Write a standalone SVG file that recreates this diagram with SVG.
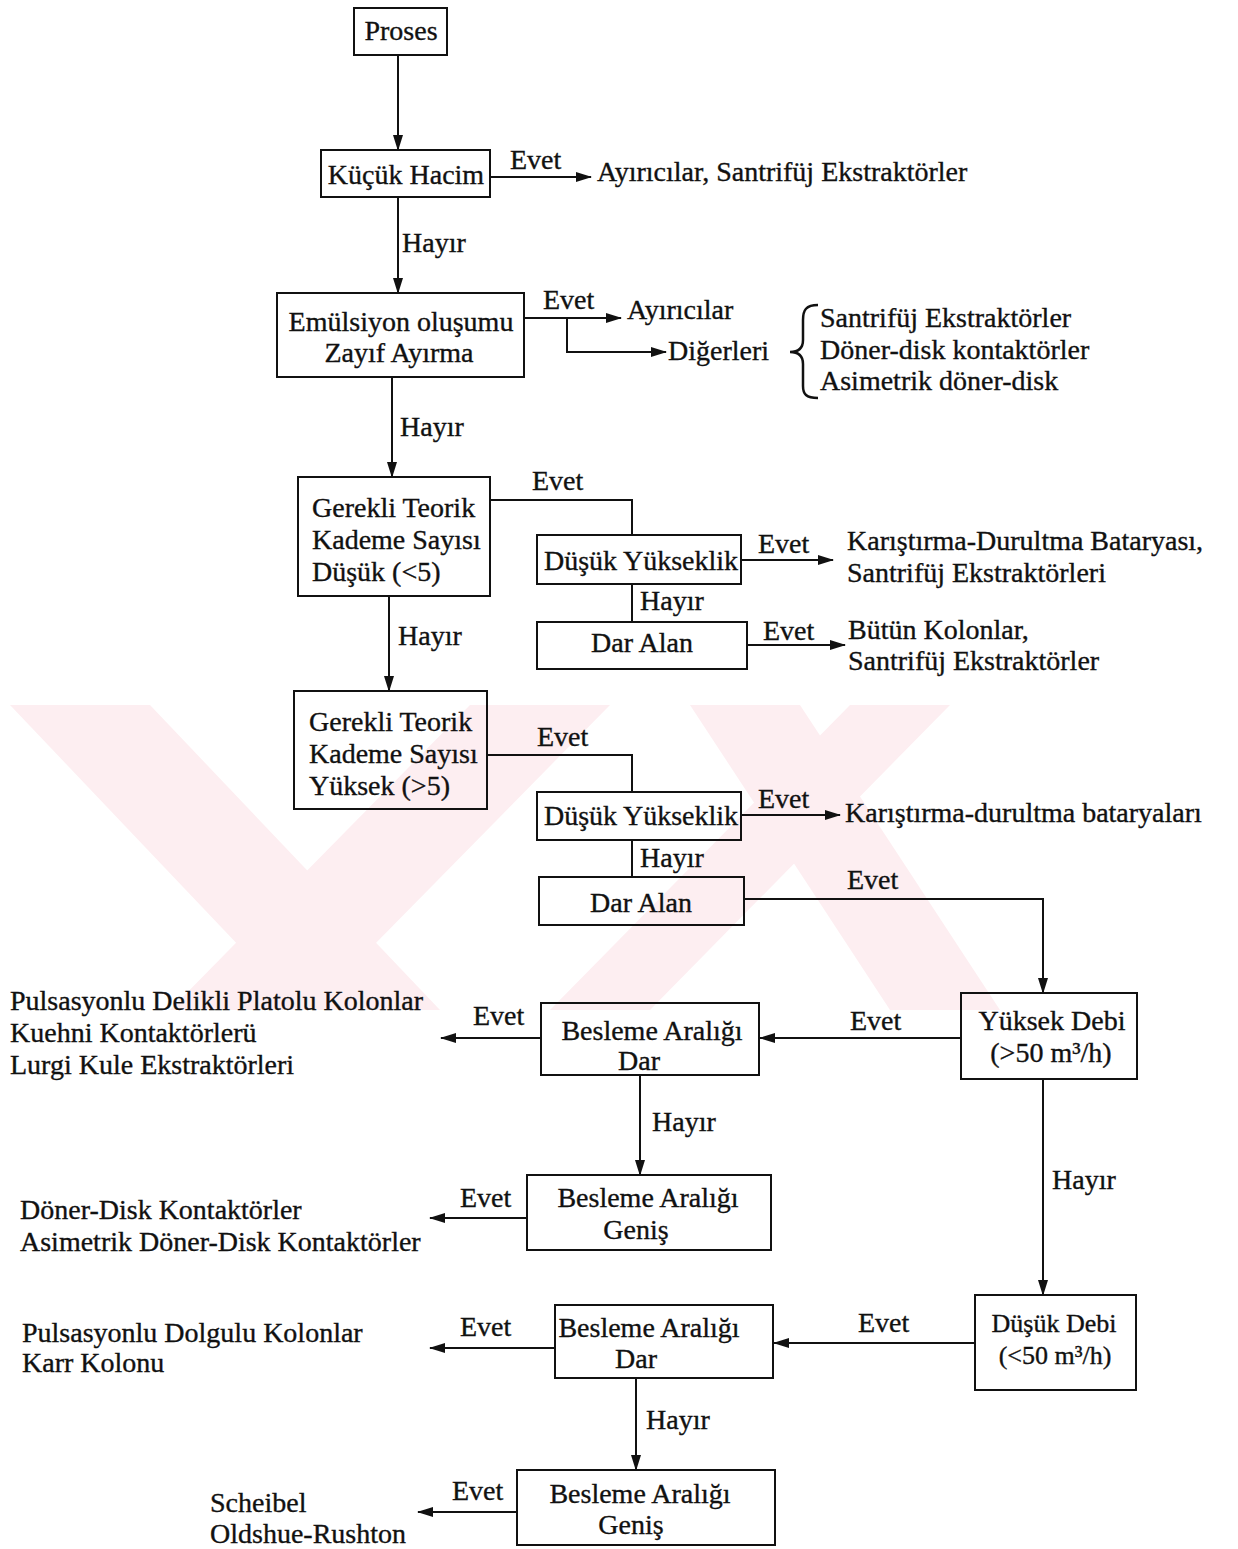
<svg xmlns="http://www.w3.org/2000/svg" width="1238" height="1549" viewBox="0 0 1238 1549">
<defs>
<marker id="ah" markerWidth="16" markerHeight="10" refX="15" refY="5" orient="auto" markerUnits="userSpaceOnUse"><path d="M0,0 L16,5 L0,10 Z" fill="#111"/></marker>
<style>
.t{font-family:"Liberation Serif","Times New Roman",serif;font-size:28px;fill:#111;stroke:#111;stroke-width:0.35}
.s{font-size:26px}
.c{text-anchor:middle}
.box{fill:none;stroke:#111;stroke-width:2}
.ln{fill:none;stroke:#111;stroke-width:2}
.ar{marker-end:url(#ah)}
.wm{fill:#fdeef1}
</style>
</defs>
<rect width="1238" height="1549" fill="#fff"/>
<g id="watermark">
<polygon class="wm" points="10,705 150,705 440,1010 300,1010"/>
<polygon class="wm" points="470,705 610,705 310,1010 170,1010"/>
<polygon class="wm" points="690,705 800,705 1000,1010 890,1010"/>
<polygon class="wm" points="850,705 950,705 650,1010 550,1010"/>
</g>
<g id="connectors">
<path class="ln ar" d="M398,55 V150"/>
<path class="ln ar" d="M490,177 H591"/>
<path class="ln ar" d="M398,197 V293"/>
<path class="ln ar" d="M524,318 H621"/>
<path class="ln ar" d="M567,318 V352 H666"/>
<path class="ln ar" d="M392,377 V477"/>
<path class="ln" d="M490,500 H632 V535"/>
<path class="ln ar" d="M741,560 H833"/>
<path class="ln" d="M632,584 V622"/>
<path class="ln ar" d="M747,645 H845"/>
<path class="ln ar" d="M389,596 V691"/>
<path class="ln" d="M487,755 H632 V792"/>
<path class="ln ar" d="M741,815 H840"/>
<path class="ln" d="M632,840 V877"/>
<path class="ln ar" d="M744,899 H1043 V993"/>
<path class="ln ar" d="M961,1038 H760"/>
<path class="ln ar" d="M541,1038 H441"/>
<path class="ln ar" d="M640,1075 V1175"/>
<path class="ln ar" d="M527,1218 H430"/>
<path class="ln ar" d="M1043,1079 V1295"/>
<path class="ln ar" d="M975,1343 H774"/>
<path class="ln ar" d="M555,1348 H430"/>
<path class="ln ar" d="M636,1378 V1470"/>
<path class="ln ar" d="M517,1512 H418"/>
<path d="M818,305 C806,305 803,310 803,320 L803,340 C803,348 798,352 790,352 C798,352 803,356 803,364 L803,386 C803,394 806,398 818,398" fill="none" stroke="#111" stroke-width="2.5"/>
</g>
<g id="labels" class="t">
<text x="510" y="169">Evet</text>
<text x="402" y="252">Hayır</text>
<text x="543" y="309">Evet</text>
<text x="400" y="436">Hayır</text>
<text x="532" y="490">Evet</text>
<text x="758" y="553">Evet</text>
<text x="640" y="610">Hayır</text>
<text x="763" y="640">Evet</text>
<text x="398" y="645">Hayır</text>
<text x="537" y="746">Evet</text>
<text x="758" y="808">Evet</text>
<text x="640" y="867">Hayır</text>
<text x="847" y="889">Evet</text>
<text x="850" y="1030">Evet</text>
<text x="473" y="1025">Evet</text>
<text x="652" y="1131">Hayır</text>
<text x="1052" y="1189">Hayır</text>
<text x="460" y="1207">Evet</text>
<text x="858" y="1332">Evet</text>
<text x="460" y="1336">Evet</text>
<text x="646" y="1429">Hayır</text>
<text x="452" y="1500">Evet</text>
</g>
<g id="n-proses"><rect class="box" x="354" y="8" width="93" height="47"/><text class="t c" x="401" y="40">Proses</text></g>
<g id="n-kucuk-hacim"><rect class="box" x="321" y="150" width="169" height="47"/><text class="t c" x="406" y="184">Küçük Hacim</text></g>
<g id="o-ayiricilar1"><text class="t" x="597" y="181">Ayırıcılar, Santrifüj Ekstraktörler</text></g>
<g id="n-emulsiyon"><rect class="box" x="277" y="293" width="247" height="84"/><text class="t c" x="401" y="331">Emülsiyon oluşumu</text><text class="t c" x="399" y="362">Zayıf Ayırma</text></g>
<g id="o-ayiricilar2"><text class="t" x="627" y="319">Ayırıcılar</text></g>
<g id="o-digerleri"><text class="t" x="668" y="360">Diğerleri</text></g>
<g id="o-digerleri-list"><text class="t" x="820" y="327">Santrifüj Ekstraktörler</text><text class="t" x="820" y="359">Döner-disk kontaktörler</text><text class="t" x="820" y="390">Asimetrik döner-disk</text></g>
<g id="n-gerekli-dusuk"><rect class="box" x="298" y="477" width="192" height="119"/><text class="t" x="312" y="517">Gerekli Teorik</text><text class="t" x="312" y="549">Kademe Sayısı</text><text class="t" x="312" y="581">Düşük (&lt;5)</text></g>
<g id="n-dusuk-yukseklik1"><rect class="box" x="537" y="535" width="204" height="49"/><text class="t c" x="641" y="570">Düşük Yükseklik</text></g>
<g id="o-karistirma1"><text class="t" x="847" y="550">Karıştırma-Durultma Bataryası,</text><text class="t" x="847" y="582">Santrifüj Ekstraktörleri</text></g>
<g id="n-dar-alan1"><rect class="box" x="537" y="622" width="210" height="47"/><text class="t c" x="642" y="652">Dar Alan</text></g>
<g id="o-butun"><text class="t" x="848" y="639">Bütün Kolonlar,</text><text class="t" x="848" y="670">Santrifüj Ekstraktörler</text></g>
<g id="n-gerekli-yuksek"><rect class="box" x="294" y="691" width="193" height="118"/><text class="t" x="309" y="731">Gerekli Teorik</text><text class="t" x="309" y="763">Kademe Sayısı</text><text class="t" x="309" y="795">Yüksek (&gt;5)</text></g>
<g id="n-dusuk-yukseklik2"><rect class="box" x="537" y="792" width="204" height="48"/><text class="t c" x="641" y="825">Düşük Yükseklik</text></g>
<g id="o-karistirma2"><text class="t" x="845" y="822">Karıştırma-durultma bataryaları</text></g>
<g id="n-dar-alan2"><rect class="box" x="539" y="877" width="205" height="48"/><text class="t c" x="641" y="912">Dar Alan</text></g>
<g id="n-yuksek-debi"><rect class="box" x="961" y="993" width="176" height="86"/><text class="t c" x="1052" y="1030">Yüksek Debi</text><text class="t c" x="1051" y="1062">(&gt;50 m³/h)</text></g>
<g id="n-besleme-dar1"><rect class="box" x="541" y="1003" width="218" height="72"/><text class="t c" x="652" y="1040">Besleme Aralığı</text><text class="t c" x="639" y="1070">Dar</text></g>
<g id="o-pulsasyonlu-delikli"><text class="t" x="10" y="1010">Pulsasyonlu Delikli Platolu Kolonlar</text><text class="t" x="10" y="1042">Kuehni Kontaktörlerü</text><text class="t" x="10" y="1074">Lurgi Kule Ekstraktörleri</text></g>
<g id="n-besleme-genis1"><rect class="box" x="527" y="1175" width="244" height="75"/><text class="t c" x="648" y="1207">Besleme Aralığı</text><text class="t c" x="636" y="1239">Geniş</text></g>
<g id="o-doner-disk"><text class="t" x="20" y="1219">Döner-Disk Kontaktörler</text><text class="t" x="20" y="1251">Asimetrik Döner-Disk Kontaktörler</text></g>
<g id="n-dusuk-debi"><rect class="box" x="975" y="1295" width="161" height="95"/><text class="t s c" x="1054" y="1332">Düşük Debi</text><text class="t s c" x="1055" y="1364">(&lt;50 m³/h)</text></g>
<g id="n-besleme-dar2"><rect class="box" x="555" y="1305" width="218" height="73"/><text class="t c" x="649" y="1337">Besleme Aralığı</text><text class="t c" x="636" y="1368">Dar</text></g>
<g id="o-pulsasyonlu-dolgulu"><text class="t" x="22" y="1342">Pulsasyonlu Dolgulu Kolonlar</text><text class="t" x="22" y="1372">Karr Kolonu</text></g>
<g id="n-besleme-genis2"><rect class="box" x="517" y="1470" width="258" height="75"/><text class="t c" x="640" y="1503">Besleme Aralığı</text><text class="t c" x="631" y="1534">Geniş</text></g>
<g id="o-scheibel"><text class="t" x="210" y="1512">Scheibel</text><text class="t" x="210" y="1543">Oldshue-Rushton</text></g>
</svg>
